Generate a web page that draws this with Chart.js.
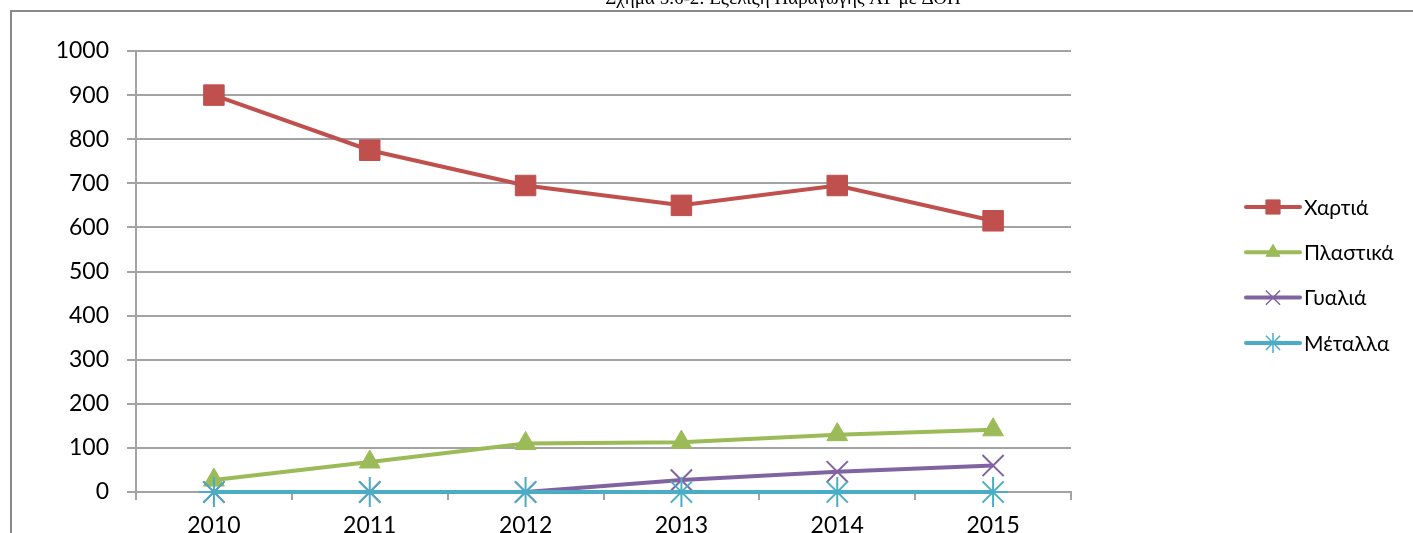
<!DOCTYPE html>
<html>
<head>
<meta charset="utf-8">
<script src="https://cdn.jsdelivr.net/npm/chart.js@4/dist/chart.umd.min.js"></script>
<style>
  html, body { margin: 0; padding: 0; background: #fff; }
  #wrap { position: relative; width: 1413px; height: 533px; overflow: hidden; background: #fff; }
  canvas { position: absolute; left: 0; top: 0; }
</style>
</head>
<body>
<div id="wrap"><canvas id="c" width="1413" height="533"></canvas></div>
<script>
// ---- data ----
const titleText = 'Σχήμα 5.6-2: Εξέλιξη Παραγωγής ΑΥ με ΔΟΠ';
const years = ['2010', '2011', '2012', '2013', '2014', '2015'];
const seriesNames = ['Χαρτιά', 'Πλαστικά', 'Γυαλιά', 'Μέταλλα'];
const paper   = [900, 775, 695, 650, 695, 615];
const plastic = [27, 68, 110, 113, 130, 141];
const glass   = [0, 0, 0, 27, 46, 60];
const metal   = [0, 0, 0, 0, 0, 0];
const yTicks  = [0, 100, 200, 300, 400, 500, 600, 700, 800, 900, 1000];

const FONT = 'Lato, "Open Sans", "DejaVu Sans", sans-serif';
const GRID = '#a3a3a3';

const styles = [
  { color: '#C0504D', point: 'rect',     radius: 14.5, bw: 1, legendR: 10 },
  { color: '#9BBB59', point: 'triangle', radius: 12,   bw: 1, legendR: 8 },
  { color: '#8064A2', point: 'crossRot', radius: 15,   bw: 2, legendR: 10 },
  { color: '#4BACC6', point: 'star',     radius: 15,   bw: 2, legendR: 10 }
];
const values = [paper, plastic, glass, metal];

const datasets = seriesNames.map((name, i) => ({
  label: name,
  data: values[i],
  borderColor: styles[i].color,
  backgroundColor: styles[i].color,
  pointBackgroundColor: styles[i].color,
  pointBorderColor: styles[i].color,
  pointStyle: styles[i].point,
  pointRadius: styles[i].radius,
  pointBorderWidth: styles[i].bw,
  borderWidth: 4,
  tension: 0,
  clip: false,
  order: 4 - i
}));

const framePlugin = {
  id: 'frame',
  beforeDraw(chart) {
    const ctx = chart.ctx;
    ctx.save();
    ctx.fillStyle = '#fff';
    ctx.fillRect(0, 0, chart.width, chart.height);
    ctx.strokeStyle = '#8a8a8a';
    ctx.lineWidth = 2;
    ctx.beginPath();
    ctx.moveTo(11, 533);
    ctx.lineTo(11, 11);
    ctx.lineTo(1413, 11);
    ctx.stroke();
    ctx.fillStyle = '#000';
    ctx.font = '19px "Liberation Serif", "DejaVu Serif", serif';
    ctx.textAlign = 'center';
    ctx.textBaseline = 'alphabetic';
    ctx.fillText(titleText, 783, 4);
    ctx.restore();
  }
};

function drawMarker(ctx, style, r, bw, x, y, color) {
  if (Chart.helpers && Chart.helpers.drawPoint) {
    ctx.fillStyle = color;
    ctx.strokeStyle = color;
    ctx.lineWidth = bw;
    Chart.helpers.drawPoint(ctx, { pointStyle: style, radius: r, rotation: 0, borderWidth: bw }, x, y);
  }
}

const legendPlugin = {
  id: 'customLegend',
  afterDraw(chart) {
    const ctx = chart.ctx;
    ctx.save();
    chart.data.datasets.forEach((ds, i) => {
      const y = 207 + i * 45.3;
      ctx.strokeStyle = ds.borderColor;
      ctx.lineWidth = 4;
      ctx.lineCap = 'round';
      ctx.beginPath();
      ctx.moveTo(1246, y);
      ctx.lineTo(1300, y);
      ctx.stroke();
      ctx.lineCap = 'butt';
      drawMarker(ctx, ds.pointStyle, styles[i].legendR, i >= 2 ? 1.5 : 1, 1273, y, ds.borderColor);
      ctx.fillStyle = '#000';
      ctx.font = '21px ' + FONT;
      ctx.textAlign = 'left';
      ctx.textBaseline = 'middle';
      ctx.fillText(ds.label, 1304, y + 1);
    });
    ctx.restore();
  }
};

new Chart(document.getElementById('c'), {
  type: 'line',
  data: { labels: years, datasets },
  options: {
    responsive: false,
    animation: false,
    devicePixelRatio: 1,
    layout: { padding: { left: 0, right: 342, top: 51, bottom: 0 } },
    plugins: {
      legend: { display: false },
      tooltip: { enabled: false },
      title: { display: false }
    },
    scales: {
      x: {
        type: 'category',
        offset: true,
        grid: {
          offset: true,
          drawOnChartArea: false,
          drawTicks: true,
          tickLength: 8,
          color: GRID,
          lineWidth: 2
        },
        border: { display: true, color: GRID, width: 2 },
        ticks: {
          color: '#000',
          font: { family: FONT, size: 23 },
          padding: 12,
          maxRotation: 0
        },
        afterFit(s) { s.height = 41; }
      },
      y: {
        min: 0,
        max: 1000,
        afterBuildTicks(s) { s.ticks = yTicks.map(v => ({ value: v })); },
        grid: {
          color: GRID,
          lineWidth: 2,
          drawTicks: true,
          tickLength: 9
        },
        border: { display: true, color: GRID, width: 2 },
        ticks: {
          color: '#000',
          font: { family: FONT, size: 23 },
          padding: 18,
          callback: (v) => String(v)
        },
        afterFit(s) { s.width = 136; }
      }
    }
  },
  plugins: [framePlugin, legendPlugin]
});
</script>
</body>
</html>
